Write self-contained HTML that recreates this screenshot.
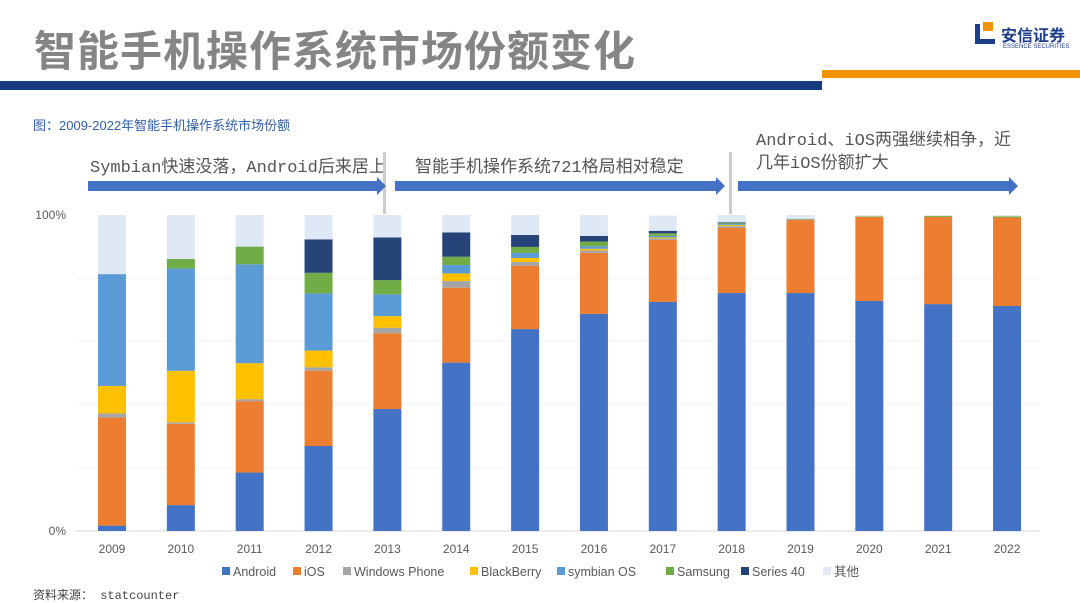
<!DOCTYPE html>
<html><head><meta charset="utf-8"><style>
body{margin:0;width:1080px;height:603px;background:#fff;overflow:hidden;font-family:"Liberation Sans","Noto Sans CJK SC",sans-serif;position:relative}
.abs{position:absolute}
.ann{font-size:17px;color:#555;font-family:'Liberation Mono','Noto Sans CJK SC',monospace}
</style></head><body>
<div class="abs" style="left:34px;top:18px;font-size:42px;font-weight:bold;color:#858585;letter-spacing:1px;font-family:'Noto Sans CJK SC',sans-serif">智能手机操作系统市场份额变化</div>
<div class="abs" style="left:975px;top:22px;width:105px;height:40px">
 <div class="abs" style="left:0;top:2px;width:20px;height:20px;border-left:5px solid #1f3e8a;border-bottom:5px solid #1f3e8a;box-sizing:border-box"></div>
 <div class="abs" style="left:8px;top:0;width:10px;height:9px;background:#f39200"></div>
 <div class="abs" style="left:26px;top:0;font-size:16px;font-weight:bold;color:#1f3e8a">安信证券</div>
 <div class="abs" style="left:28px;top:22px;font-size:6px;color:#1f3e8a">ESSENCE SECURITIES</div>
</div>
<div class="abs" style="left:0;top:81px;width:822px;height:9px;background:#173a80"></div>
<div class="abs" style="left:822px;top:70px;width:258px;height:8px;background:#f39200"></div>
<div class="abs" style="left:33px;top:115px;font-size:13px;color:#2f5fa8">图：2009-2022年智能手机操作系统市场份额</div>
<div class="abs ann" style="left:90px;top:152px">Symbian快速没落，Android后来居上</div>
<div class="abs ann" style="left:415px;top:152px">智能手机操作系统721格局相对稳定</div>
<div class="abs ann" style="left:756px;top:130px;line-height:23px">Android、iOS两强继续相争，近<br>几年iOS份额扩大</div>
<div class="abs" style="left:33px;top:586px;font-size:12px;color:#444;font-family:'Liberation Mono','Noto Sans CJK SC',monospace">资料来源： statcounter</div>
<svg class="abs" style="left:0;top:0" width="1080" height="603" id="chart">
 <g>
  <rect x="383" y="152" width="3" height="62" fill="#ccc"/><rect x="729" y="152" width="3" height="62" fill="#ccc"/>
  <polygon points="88,181 377,181 377,177 386,186 377,195 377,191 88,191" fill="#4472c4"/>
  <polygon points="395,181 716,181 716,177 725,186 716,195 716,191 395,191" fill="#4472c4"/>
  <polygon points="738,181 1009,181 1009,177 1018,186 1009,195 1009,191 738,191" fill="#4472c4"/>
 </g>
</svg>
<script>
const years=['2009','2010','2011','2012','2013','2014','2015','2016','2017','2018','2019','2020','2021','2022'];
const seriesNames=['Android','iOS','Windows Phone','BlackBerry','symbian OS','Samsung','Series 40','其他'];
const android=[1.7,8.2,18.5,26.9,38.6,53.3,63.9,68.7,72.5,75.3,75.3,72.8,71.8,71.2];
const ios=[34.2,25.7,22.6,23.8,24.0,23.7,20.0,19.3,19.6,20.6,23.1,26.6,27.6,28.0];
const windowsPhone=[1.3,0.5,0.6,1.1,1.7,2.1,1.2,0.8,0.5,0.6,0.2,0,0,0];
const blackberry=[8.7,16.3,11.4,5.3,3.7,2.4,1.3,0.5,0.3,0.3,0,0,0,0];
const symbian=[35.4,32.4,31.3,18.1,6.9,2.7,1.6,0.8,0.5,0.3,0,0,0,0];
const samsung=[0,3.0,5.6,6.5,4.5,2.6,1.9,1.5,0.8,0.3,0.2,0.2,0.3,0.4];
const series40=[0,0,0,10.6,13.5,7.7,3.8,1.8,0.8,0.3,0,0,0,0];
const other=[18.7,13.9,10.0,7.7,7.1,5.5,6.3,6.6,4.8,2.3,1.2,0.4,0.3,0.4];
const yTicks=['0%','100%'];
const colors=['#4472c4','#ed7d31','#a5a5a5','#ffc000','#5b9bd5','#70ad47','#264478','#dfe9f5'];
const ns='http://www.w3.org/2000/svg';
const svg=document.getElementById('chart');
const y0=531,ph=316,x0=112,dx=68.85,bw=28;
const yS=v=>y0-v/100*ph;
const xS=i=>x0+i*dx;
function mk(t,a){const e=document.createElementNS(ns,t);for(const k in a)e.setAttribute(k,a[k]);svg.appendChild(e);return e;}
for(let g=1;g<5;g++){const l=mk('line',{x1:75,x2:1040,y1:yS(g*20),y2:yS(g*20),stroke:'#f5f5f5'});

}
const ax=mk('line',{x1:75,x2:1040,y1:y0,y2:y0,stroke:'#d9d9d9'});


[0,100].forEach((v,i)=>{const t=mk('text',{x:66,y:yS(v)+4,'text-anchor':'end','font-size':12,fill:'#595959'});t.textContent=yTicks[i];

});
const all=[android,ios,windowsPhone,blackberry,symbian,samsung,series40,other];
years.forEach((yr,i)=>{let c=0;
 all.forEach((s,k)=>{const v=s[i];if(v<=0)return;
  const r=mk('rect',{x:xS(i)-bw/2,y:yS(c+v),width:bw,height:v/100*ph,fill:colors[k]});
  
  
  c+=v;});
 const t=mk('text',{x:xS(i),y:553,'text-anchor':'middle','font-size':12,fill:'#595959'});t.textContent=yr;
 
 
});
const lx=[222,293,343,470,557,666,741,823];
seriesNames.forEach((n,k)=>{
 const r=mk('rect',{x:lx[k],y:567,width:8,height:8,fill:colors[k]});
 
 
 const t=mk('text',{x:lx[k]+11,y:576,'font-size':12.5,fill:'#595959','font-family':'Liberation Sans, Noto Sans CJK SC, sans-serif'});t.textContent=n;
 
 
});
</script>
</body></html>
